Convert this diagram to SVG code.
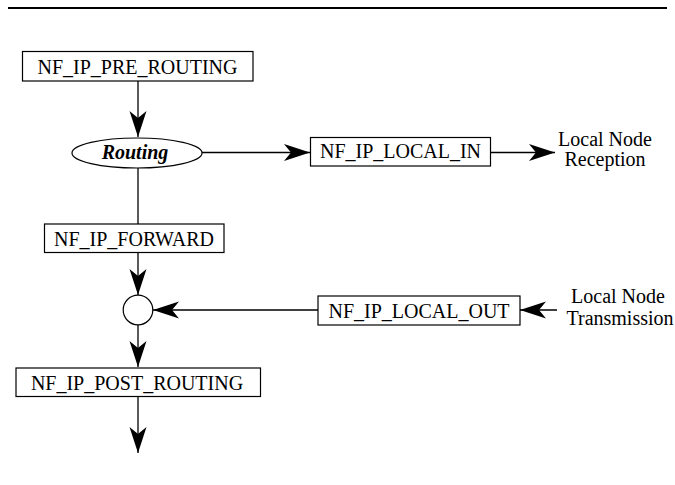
<svg xmlns="http://www.w3.org/2000/svg" width="675" height="485" viewBox="0 0 675 485">
<defs>
<style>
.box{fill:#fff;stroke:#000;stroke-width:1.2}
.lbl{font-family:"Liberation Serif","Times New Roman",serif;font-size:20px;fill:#000;text-anchor:middle}
.rt{font-family:"Liberation Serif","Times New Roman",serif;font-size:20px;font-weight:bold;font-style:italic;fill:#000;text-anchor:middle}
.ln{stroke:#000;stroke-width:1.3;fill:none}
.arr{marker-end:url(#ah)}
</style>
<marker id="ah" markerUnits="userSpaceOnUse" viewBox="-27 -9 28 18" refX="0" refY="0" markerWidth="28" markerHeight="18" orient="auto">
<path d="M0,0 L-26,-8.5 L-19,0 L-26,8.5 Z" fill="#000"/>
</marker>
</defs>
<rect x="8" y="7" width="659" height="2" fill="#000"/>
<g id="connectors">
<line class="ln arr" x1="138" y1="81" x2="138" y2="137"/>
<line class="ln arr" x1="202" y1="152.5" x2="310" y2="152.5"/>
<line class="ln arr" x1="491" y1="152.5" x2="555" y2="152.5"/>
<line class="ln" x1="138" y1="168" x2="138" y2="224"/>
<line class="ln arr" x1="138" y1="253" x2="138" y2="295"/>
<line class="ln arr" x1="318" y1="310" x2="153" y2="310"/>
<line class="ln arr" x1="557" y1="310" x2="520" y2="310"/>
<line class="ln arr" x1="138" y1="325" x2="138" y2="367"/>
<line class="ln arr" x1="138" y1="397" x2="138" y2="453"/>
</g>
<g id="pre_routing">
<rect class="box" x="22.5" y="51.5" width="230.5" height="29.5"/>
<text class="lbl" x="137.5" y="73.5">NF_IP_PRE_ROUTING</text>
</g>
<g id="routing">
<ellipse class="box" cx="137" cy="153" rx="65" ry="15"/>
<text class="rt" x="135" y="158.5">Routing</text>
</g>
<g id="local_in">
<rect class="box" x="310.5" y="137.5" width="180" height="28.5"/>
<text class="lbl" x="400.5" y="157.5">NF_IP_LOCAL_IN</text>
</g>
<g id="local_reception">
<text class="lbl" x="605" y="146">Local Node</text>
<text class="lbl" x="605" y="166">Reception</text>
</g>
<g id="forward">
<rect class="box" x="44.5" y="224" width="179.5" height="28.5"/>
<text class="lbl" x="134" y="245.5">NF_IP_FORWARD</text>
</g>
<g id="merge">
<circle class="box" cx="138" cy="310" r="14.8"/>
</g>
<g id="local_out">
<rect class="box" x="318" y="296" width="202" height="29"/>
<text class="lbl" x="419" y="317.5">NF_IP_LOCAL_OUT</text>
</g>
<g id="local_transmission">
<text class="lbl" x="618" y="302.5">Local Node</text>
<text class="lbl" x="620" y="325">Transmission</text>
</g>
<g id="post_routing">
<rect class="box" x="16" y="368" width="244.5" height="28.5"/>
<text class="lbl" x="137" y="390">NF_IP_POST_ROUTING</text>
</g>
</svg>
